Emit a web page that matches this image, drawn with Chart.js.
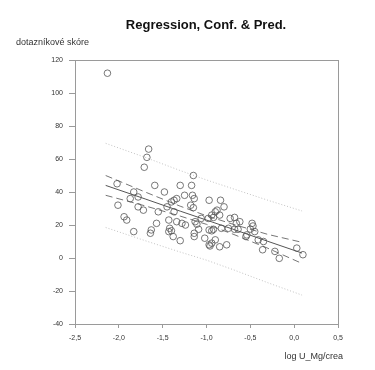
<!DOCTYPE html>
<html>
<head>
<meta charset="utf-8">
<script src="https://cdn.jsdelivr.net/npm/chart.js@4/dist/chart.umd.min.js"></script>
<style>
  body { margin: 0; background: #fff; }
  canvas { display: block; }
</style>
</head>
<body>
<canvas id="regChart" width="375" height="370"></canvas>
<script>
const pointX = [
  -2.13, -1.66, -1.68, -1.71, -2.02, -1.59, -1.30, -1.17, -1.15, -1.83,
  -1.48, -1.87, -1.78, -2.01, -1.78, -1.72, -1.55, -1.45, -1.40, -1.37,
  -1.34, -1.37, -1.25, -1.16, -1.14, -1.18, -1.15, -1.94, -1.91, -1.57,
  -1.43, -1.34, -1.83, -1.63, -1.64, -1.42, -1.43, -1.40, -1.38, -1.30,
  -1.24, -1.14, -1.14, -1.13, -1.11, -1.09, -1.06, -1.02, -0.98, -0.97,
  -0.97, -0.97, -0.84, -0.80, -0.90, -0.88, -0.94, -0.85, -0.92, -0.73,
  -0.68, -0.62, -0.48, -0.47, -0.45, -0.92, -0.94, -0.83, -0.75, -0.68,
  -0.64, -0.90, -0.94, -0.96, -0.85, -0.77, -0.55, -0.41, -0.50, -0.35,
  -0.36, -0.54, -0.17, -0.22, 0.03, 0.10, -0.66, -1.28
];
const pointY = [
  112, 66, 61, 55, 45, 44, 44, 44, 50, 40,
  40, 36, 37, 32, 31, 29, 28, 31, 34, 35,
  36, 28, 38, 38, 36, 32, 30.5, 25, 23, 21,
  23, 22, 16, 17, 15, 18, 16, 16.5, 13, 10.5,
  20, 15, 13, 22, 20.5, 17.4, 24, 12, 24, 17,
  8, 35, 35, 31, 28, 29, 26, 26, 24.6, 24,
  24.6, 22, 21, 19.4, 16, 17.4, 16.5, 18, 18, 17.4,
  17.4, 11, 9, 7.3, 6.8, 8, 13, 11, 17.5, 10,
  5, 14, -0.2, 4, 6, 2, 21, 21
];

// fitted line and bands
const fitX      = [-2.15, -1.7, -1.3, -1.0, -0.7, -0.3, 0.09];
const fitY      = [44, 35.8, 28.4, 23.0, 17.5, 10.1, 3.0];
const confUpper = [50, 40, 31.4, 25.6, 20.5, 14.3, 9.5];
const confLower = [38, 31.6, 25.4, 20.4, 14.5, 5.9, -3.3];
const predUpper = [69.5, 61, 53, 47.3, 42, 35, 28.5];
const predLower = [18.5, 10.5, 3.6, -1.3, -7, -15, -22.5];

const xTicks = [-2.5, -2.0, -1.5, -1.0, -0.5, 0.0, 0.5];
const yTicks = [-40, -20, 0, 20, 40, 60, 80, 100, 120];

const pairs = (xs, ys) => xs.map((x, i) => ({ x: x, y: ys[i] }));
const FONT = '"Liberation Sans", Arial, sans-serif';

const lineSet = (ys, color, dash, width) => ({
  data: pairs(fitX, ys),
  showLine: true,
  pointRadius: 0,
  borderColor: color,
  borderWidth: width,
  borderDash: dash,
  fill: false
});

const textPlugin = {
  id: 'texts',
  afterDraw(chart) {
    const c = chart.ctx;
    const a = chart.chartArea;
    c.save();
    // frame on top and right
    c.strokeStyle = '#9a9a9a';
    c.lineWidth = 1;
    c.strokeRect(a.left + 0.5, a.top + 0.5, a.right - a.left, a.bottom - a.top);
    c.fillStyle = '#111';
    c.textBaseline = 'middle';
    c.font = 'bold 13px ' + FONT;
    c.textAlign = 'center';
    c.fillText('Regression, Conf. & Pred.', 206, 25);
    c.font = '9px ' + FONT;
    c.fillStyle = '#333';
    c.textAlign = 'left';
    c.fillText('dotazníkové skóre', 16, 43);
    c.textAlign = 'right';
    c.fillText('log U_Mg/crea', 343, 357);
    c.restore();
  }
};

new Chart(document.getElementById('regChart'), {
  type: 'scatter',
  data: {
    datasets: [
      {
        data: pairs(pointX, pointY),
        pointRadius: 3.3,
        pointBorderWidth: 0.8,
        pointBorderColor: '#555',
        pointBackgroundColor: 'rgba(0,0,0,0)',
        showLine: false
      },
      lineSet(fitY, '#555', [], 1),
      lineSet(confUpper, '#666', [7, 4], 0.9),
      lineSet(confLower, '#666', [7, 4], 0.9),
      lineSet(predUpper, '#b4b4b4', [1, 2], 0.8),
      lineSet(predLower, '#b4b4b4', [1, 2], 0.8)
    ]
  },
  options: {
    responsive: false,
    animation: false,
    devicePixelRatio: 1,
    layout: { padding: { top: 60, right: 37, left: 0, bottom: 0 } },
    plugins: {
      legend: { display: false },
      tooltip: { enabled: false }
    },
    scales: {
      x: {
        type: 'linear',
        min: -2.5, max: 0.5,
        afterBuildTicks: s => { s.ticks = xTicks.map(v => ({ value: v })); },
        afterFit: s => { s.height = 46; },
        grid: { drawOnChartArea: false, tickLength: 4, color: '#9a9a9a' },
        border: { color: '#9a9a9a' },
        ticks: {
          padding: 6,
          color: '#333',
          font: { size: 7, family: FONT },
          callback: v => v.toFixed(1).replace('.', ',')
        }
      },
      y: {
        min: -40, max: 120,
        afterBuildTicks: s => { s.ticks = yTicks.map(v => ({ value: v })); },
        afterFit: s => { s.width = 75; },
        grid: { drawOnChartArea: false, tickLength: 6, color: '#9a9a9a' },
        border: { color: '#9a9a9a' },
        ticks: {
          padding: 6,
          color: '#333',
          font: { size: 7, family: FONT },
          callback: v => String(v)
        }
      }
    }
  },
  plugins: [textPlugin]
});
</script>
</body>
</html>
